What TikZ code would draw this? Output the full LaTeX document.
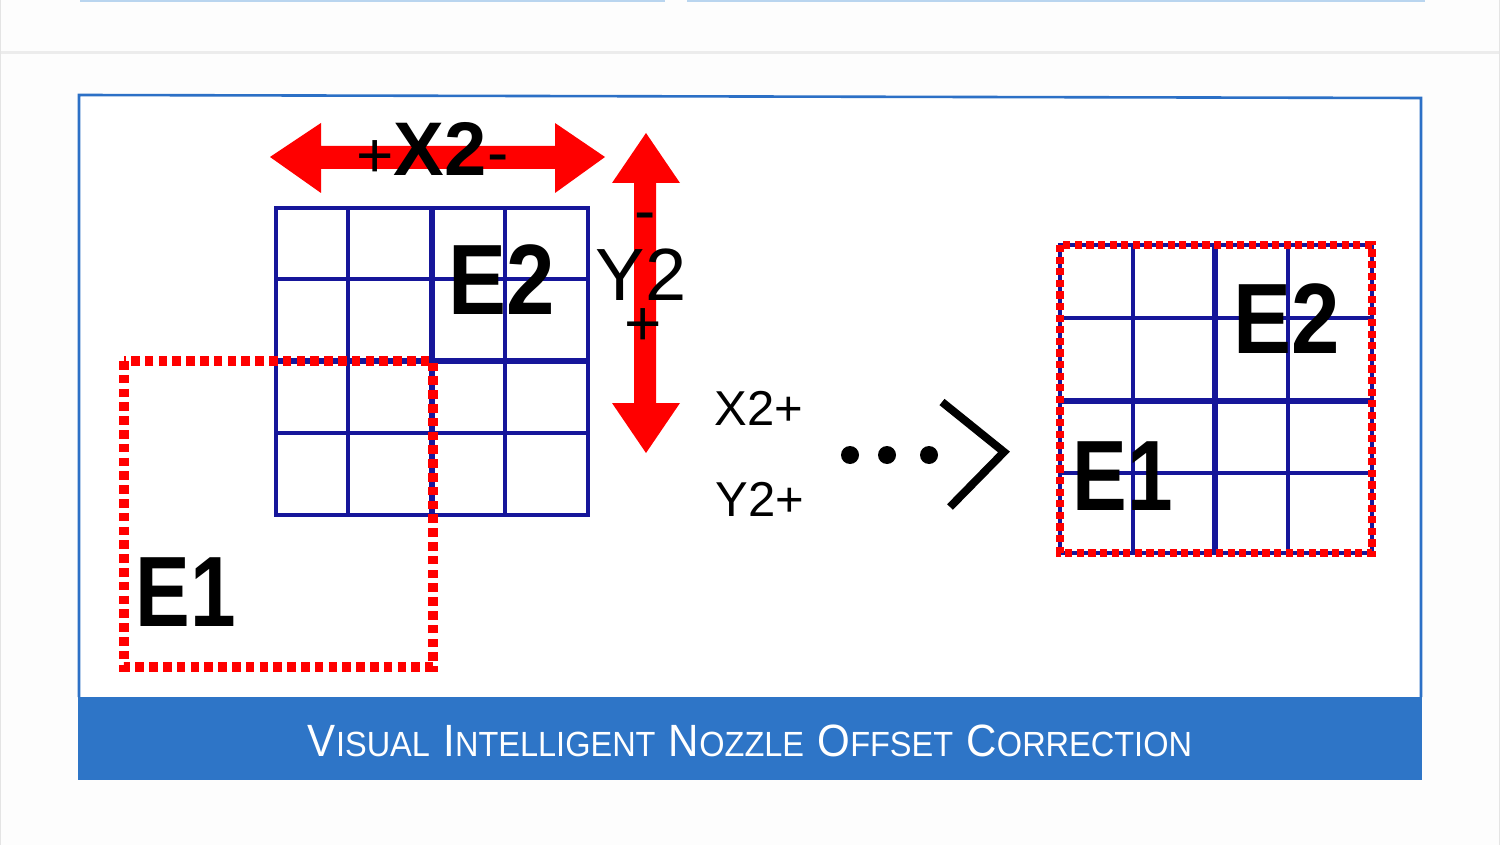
\documentclass[tikz,border=0pt]{standalone}
\usepackage{fontspec}
\setmainfont{Liberation Sans}
\usepackage{graphicx}
\definecolor{pagebg}{HTML}{FDFDFD}
\definecolor{topblue}{HTML}{B9D5EF}
\definecolor{sepgray}{HTML}{ECECEC}
\definecolor{edgegray}{HTML}{E4E4E4}
\definecolor{frameblue}{HTML}{2C70C6}
\definecolor{bannerblue}{HTML}{2E75C7}
\definecolor{navy}{HTML}{16169A}
\definecolor{arrowred}{HTML}{FF0000}
\newcommand{\capword}[2]{{\fontsize{22}{22}\selectfont #1}{\fontsize{17}{17}\selectfont #2}}
\newcommand{\wgap}{\hspace{7pt}}
\tikzset{
  gridthin/.style={draw=navy,line width=1.8pt},
  gridmid/.style={draw=navy,line width=2.6pt},
  gridouter/.style={draw=navy,line width=2.3pt},
  reddots/.style={draw=arrowred,line width=4.6pt,dash pattern=on 4.3pt off 2.6pt},
  reddotsthin/.style={draw=arrowred,line width=3.6pt,dash pattern=on 3.6pt off 2.2pt},
  bigE/.style={font=\fontsize{50}{50}\selectfont\bfseries,inner sep=0pt,anchor=base,text=black},
  signtxt/.style={font=\fontsize{32}{32}\selectfont,inner sep=0pt,anchor=base,text=black},
  smalltxt/.style={font=\fontsize{24.5}{25}\selectfont,inner sep=0pt,anchor=base,text=black},
  bigarrow/.style={fill=arrowred,draw=none}
}
\begin{document}
\begin{tikzpicture}[x=0.5pt,y=-0.5pt]
\useasboundingbox (0,0) rectangle (1500,845);
\fill[pagebg] (0,0) rectangle (1500,845);
% top decorations
\draw[topblue,line width=1.2pt] (80,1) -- (665,1);
\draw[topblue,line width=1.2pt] (687,1) -- (1425,1);
\draw[sepgray,line width=1.5pt] (0,53) -- (1500,53);
\draw[edgegray,line width=0.6pt] (0.6,0) -- (0.6,845);
\draw[edgegray,line width=0.6pt] (1499.4,0) -- (1499.4,845);
% panel
\fill[white] (79,96) -- (1421,98) -- (1421,697) -- (79,697) -- cycle;
\draw[frameblue,line width=1.3pt] (79,697) -- (79,95) -- (1421,98) -- (1421,697);
\fill[bannerblue] (78,697) rectangle (1422,780);
\node[text=white,anchor=base,inner sep=0pt] (title) at (750,756)
  {\resizebox{442pt}{15.8pt}{\capword{V}{ISUAL}\wgap\capword{I}{NTELLIGENT}\wgap\capword{N}{OZZLE}\wgap\capword{O}{FFSET}\wgap\capword{C}{ORRECTION}}};

% left grid (E2)
\draw[gridthin] (348,208) -- (348,515);
\draw[gridthin] (505,208) -- (505,515);
\draw[gridthin] (276,279) -- (588,279);
\draw[gridthin] (276,433) -- (588,433);
\draw[gridmid] (432,208) -- (432,515);
\draw[gridmid] (276,361) -- (588,361);
\draw[gridouter] (276,208) rectangle (588,515);
\node[bigE] (e2l) at (502,315) {\scalebox{0.87}[1]{E2}};

% left E1 dotted box
\draw[reddots] (124,361) rectangle (433,667);
\node[bigE] (e1l) at (186,626) {\scalebox{0.82}[1]{E1}};

% horizontal double arrow
\fill[bigarrow] (270,157) -- (321,123) -- (321,146) -- (555,146) -- (555,123) -- (605,157)
  -- (555,193) -- (555,169) -- (321,169) -- (321,193) -- cycle;
\node[signtxt] (xplus) at (375,178) {+};
\node[font=\fontsize{38}{38}\selectfont\bfseries,inner sep=0pt,anchor=base] (x2) at (440,176) {X2};
\node[signtxt] (xminus) at (498,175) {-};

% vertical double arrow
\fill[bigarrow] (646,133) -- (680,183) -- (656,183) -- (656,403) -- (680,403) -- (646,453)
  -- (612,403) -- (634,403) -- (634,183) -- (612,183) -- cycle;
\node[signtxt] (yminus) at (645,233) {-};
\node[font=\fontsize{37}{37}\selectfont,inner sep=0pt,anchor=base] (y2) at (641,300) {Y2};
\node[signtxt] (yplus) at (643,346) {+};

% middle labels
\node[smalltxt] (x2p) at (759,425) {X2+};
\node[smalltxt] (y2p) at (760,516) {Y2+};
\fill[black] (850,455) circle (9);
\fill[black] (887,455) circle (9);
\fill[black] (929,455) circle (9);
\coordinate (cha) at (942,402);
\coordinate (chb) at (1004,452);
\coordinate (chc) at (950,507);
\draw[black,line width=4pt] (cha) -- (chb) -- (chc);

% right grid
\draw[gridthin] (1133,245) -- (1133,553);
\draw[gridthin] (1288,245) -- (1288,553);
\draw[gridthin] (1060,318) -- (1372,318);
\draw[gridthin] (1060,473) -- (1372,473);
\draw[gridmid] (1215,245) -- (1215,553);
\draw[gridmid] (1060,401) -- (1372,401);
\draw[gridouter] (1060,245) rectangle (1372,553);
\draw[reddotsthin] (1060,245) rectangle (1372,553);
\node[bigE] (e2r) at (1287,354) {\scalebox{0.87}[1]{E2}};
\node[bigE] (e1r) at (1123,510) {\scalebox{0.82}[1]{E1}};
\end{tikzpicture}
\end{document}
